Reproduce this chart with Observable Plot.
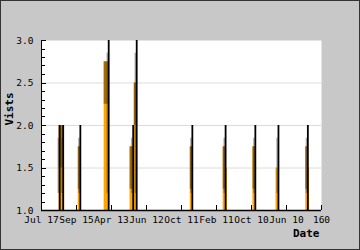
<!DOCTYPE html>
<html><head><meta charset="utf-8">
<script src="https://cdn.jsdelivr.net/npm/d3@7"></script>
<script src="https://cdn.jsdelivr.net/npm/@observablehq/plot@0.6"></script>
<style>
html,body{margin:0;padding:0;background:#c8c8c8;}
#wrap{position:relative;width:360px;height:250px;overflow:hidden;}
#border{position:absolute;left:0;top:0;width:360px;height:250px;box-sizing:border-box;border:1px solid #333;pointer-events:none;}
svg{display:block;}
</style>
</head><body>
<div id="wrap"><div id="border"></div></div>
<script>
// tick labels of the category axis (every 10th point)
const xTicks = [0, 10, 20, 30, 40, 50, 60, 70, 80];
const xLabels = ["Jul 17", "Sep 15", "Apr 13", "Jun 12", "Oct 11", "Feb 11", "Oct 10", "Jun 10", "160"];
const yTicks = [1.0, 1.5, 2.0, 2.5, 3.0];

// orange filled bars (point index start/end, value)
const barStart = [5.0, 6.3, 10.5, 17.9, 25.3, 26.5, 42.5, 51.9, 52.7, 60.4, 67.0, 75.5, 76.2];
const barEnd   = [6.3, 6.6, 11.1, 19.2, 26.2, 27.2, 43.2, 52.7, 53.1, 61.2, 67.9, 76.2, 76.6];
const barTop   = [2.0, 1.5, 1.75, 2.75, 1.75, 2.5, 1.75, 1.75, 1.5, 1.75, 1.5, 1.75, 1.5];

// black visits line spikes (point index, value)
const lineX   = [5.2, 6.2, 11.1, 19.2, 26.2, 27.2, 43.1, 52.6, 61.1, 67.7, 76.1];
const lineTop = [2.0, 2.0, 2.0, 3.0, 2.0, 3.0, 2.0, 2.0, 2.0, 2.0, 2.0];

const bars = barStart.map((s, i) => ({x1: s, x2: barEnd[i], y: barTop[i]}));
const spikes = lineX.map((x, i) => ({x, y: lineTop[i]}));

const font = "DejaVu Sans Mono";
const plot = Plot.plot({
  width: 360, height: 250,
  marginLeft: 41, marginRight: 39, marginTop: 40, marginBottom: 40,
  style: {background: "#c8c8c8", fontFamily: font, fontSize: "9.5px", color: "#000"},
  x: {domain: [0, 80], label: null},
  y: {domain: [1, 3], label: null},
  marks: [
    Plot.frame({fill: "white", stroke: null}),
    Plot.ruleY([1.5, 2.0, 2.5], {stroke: "#dcdcdc"}),
    Plot.rectY(bars, {x1: "x1", x2: "x2", y1: 1, y2: "y", fill: "#ffa500"}),
    Plot.rectY(bars.filter(d => d.y > 1.5), {x1: "x1", x2: "x2", y1: d => d.y - 0.5, y2: "y", fill: "#000", fillOpacity: 0.35}),
    Plot.ruleX(spikes, {x: d => d.x - 0.4, y1: 1.2, y2: d => d.y - 0.15, stroke: "#444", strokeOpacity: 0.45, strokeWidth: 1.5}),
    Plot.ruleX(spikes, {x: "x", y1: 1, y2: "y", stroke: "#000", strokeWidth: 1.8}),
    Plot.ruleX([0], {stroke: "#000"}),
    Plot.ruleY([1], {stroke: "#000", strokeWidth: 1.5}),
    Plot.axisY({ticks: yTicks, tickFormat: d => d.toFixed(1), tickSize: 0, tickPadding: 8, fontSize: "9.5px"}),
    Plot.axisX({ticks: xTicks, tickFormat: (d, i) => xLabels[i], tickSize: 0, tickPadding: 6, fontSize: "9.5px"}),
    Plot.text(["Date"], {frameAnchor: "bottom-right", dy: 26, dx: -2, textAnchor: "end", fontWeight: "bold", fontSize: 11}),
    Plot.text(["Vists"], {frameAnchor: "left", dx: -32, rotate: -90, fontWeight: "bold", fontSize: 11})
  ]
});

// inward tick marks drawn with the plot's own scales
const xs = plot.scale("x"), ys = plot.scale("y");
const svg = d3.select(plot);
const g = svg.append("g").attr("stroke", "#000").attr("stroke-width", 1);
const minor = d3.range(10, 31).map(v => v / 10);
minor.forEach(v => {
  const major = Math.abs(v * 2 - Math.round(v * 2)) < 1e-9;
  const yy = Math.round(ys.apply(v)) + 0.5;
  const x0 = xs.apply(0);
  g.append("line").attr("x1", x0).attr("x2", x0 + (major ? 5 : 4)).attr("y1", yy).attr("y2", yy);
});
xTicks.forEach(t => {
  const xx = Math.round(xs.apply(t)) + 0.5;
  const y0 = ys.apply(1);
  g.append("line").attr("x1", xx).attr("x2", xx).attr("y1", y0).attr("y2", y0 - 5);
});

document.getElementById("wrap").prepend(plot);
</script>
</body></html>
